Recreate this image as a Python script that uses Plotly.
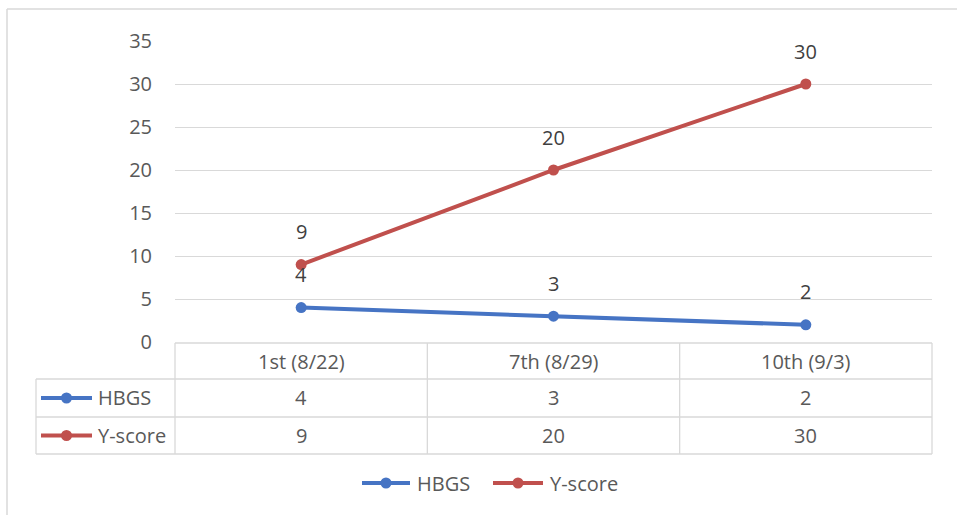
import plotly.graph_objects as go

# ---- data ----
categories = ["1st (8/22)", "7th (8/29)", "10th (9/3)"]
series_names = ["HBGS", "Y-score"]
hbgs = [4, 3, 2]
yscore = [9, 20, 30]
y_ticks = [0, 5, 10, 15, 20, 25, 30, 35]

colors = {"HBGS": "#4674C4", "Y-score": "#C0504D"}
series_values = {"HBGS": hbgs, "Y-score": yscore}

FONT = "Open Sans"
TEXT = "#595959"
GRID = "#D9D9D9"

# ---- canvas geometry (pixels) ----
W, H = 957, 515
L, R, T, B = 175, 932, 41, 342


def px(x):
    return (x - L) / (R - L)


def py(y):
    return (B - y) / (B - T)


fig = go.Figure()

for name in series_names:
    fig.add_trace(go.Scatter(
        x=list(range(len(categories))),
        y=series_values[name],
        mode="lines+markers",
        name=name,
        line=dict(color=colors[name], width=4),
        marker=dict(color=colors[name], size=11),
        cliponaxis=False,
        showlegend=False,
        hoverinfo="skip",
    ))

annotations = []
shapes = []

# data labels above each point
for name in series_names:
    for i, v in enumerate(series_values[name]):
        annotations.append(dict(
            x=i, y=v, xref="x", yref="y", text=str(v), showarrow=False,
            xanchor="center", yanchor="middle",
            yshift=33, font=dict(family=FONT, size=20, color="#404040"),
        ))

# ---- data table under the plot ----
row_lines = [343, 379, 417, 454]
left_px = 36


def hline(y, x0p, x1p):
    shapes.append(dict(type="line", xref="paper", yref="paper",
                       x0=px(x0p), x1=px(x1p), y0=py(y), y1=py(y),
                       line=dict(color=GRID, width=1.3)))


def vline(xp, y0, y1):
    shapes.append(dict(type="line", xref="paper", yref="paper",
                       x0=px(xp), x1=px(xp), y0=py(y0), y1=py(y1),
                       line=dict(color=GRID, width=1.3)))


hline(row_lines[0], L, R)
for y in row_lines[1:]:
    hline(y, left_px, R)
vline(left_px, row_lines[1], row_lines[3])
for k in range(len(categories) + 1):
    xp = L + k * (R - L) / len(categories)
    vline(xp, row_lines[0], row_lines[3])

# header cells (category names)
for i, c in enumerate(categories):
    annotations.append(dict(
        x=i, y=py((row_lines[0] + row_lines[1]) / 2), xref="x", yref="paper",
        xanchor="center", yanchor="middle",
        text=c, showarrow=False, font=dict(family=FONT, size=20, color=TEXT),
    ))


def legend_key(x0, x1, cy, color):
    shapes.append(dict(type="line", xref="paper", yref="paper",
                       x0=px(x0), x1=px(x1), y0=py(cy), y1=py(cy),
                       line=dict(color=color, width=4)))
    cx = (x0 + x1) / 2
    shapes.append(dict(type="circle", xref="paper", yref="paper",
                       xsizemode="pixel", ysizemode="pixel",
                       xanchor=px(cx), yanchor=py(cy),
                       x0=-5.5, x1=5.5, y0=-5.5, y1=5.5,
                       fillcolor=color, line=dict(color=color, width=0)))


# value rows
for r, name in enumerate(series_names):
    cy = (row_lines[r + 1] + row_lines[r + 2]) / 2
    legend_key(41, 92, cy, colors[name])
    annotations.append(dict(
        x=px(96), y=py(cy), xref="paper", yref="paper",
        xanchor="left", yanchor="middle",
        text=name, showarrow=False, font=dict(family=FONT, size=20, color=TEXT),
    ))
    for i, v in enumerate(series_values[name]):
        annotations.append(dict(
            x=i, y=py(cy), xref="x", yref="paper", text=str(v), showarrow=False,
            xanchor="center", yanchor="middle",
            font=dict(family=FONT, size=20, color=TEXT),
        ))

# ---- legend below the table ----
leg_y = 483
leg_items = [(362, 410, 415), (493, 543, 548)]
for name, (a, b, t) in zip(series_names, leg_items):
    legend_key(a, b, leg_y, colors[name])
    annotations.append(dict(
        x=px(t), y=py(leg_y), xref="paper", yref="paper",
        xanchor="left", yanchor="middle",
        text=name, showarrow=False, font=dict(family=FONT, size=20, color=TEXT),
    ))

# chart frame
shapes.append(dict(type="line", xref="paper", yref="paper",
                   x0=px(7), x1=px(7), y0=py(9), y1=py(H + 5),
                   line=dict(color="#D9D9D9", width=1.5)))
shapes.append(dict(type="line", xref="paper", yref="paper",
                   x0=px(7), x1=px(W + 5), y0=py(9), y1=py(9),
                   line=dict(color="#D9D9D9", width=1.5)))

fig.update_layout(
    width=W, height=H, autosize=False,
    margin=dict(l=L, r=W - R, t=T, b=H - B, pad=0),
    paper_bgcolor="white", plot_bgcolor="white",
    font=dict(family=FONT, size=20, color=TEXT),
    xaxis=dict(range=[-0.5, len(categories) - 0.5], showticklabels=False,
               showgrid=False, zeroline=False, showline=False, fixedrange=True),
    yaxis=dict(range=[0, 35], tickvals=y_ticks, showgrid=True, gridcolor=GRID,
               gridwidth=1.3, zeroline=False, showline=False,
               tickfont=dict(family=FONT, size=20, color=TEXT),
               ticklabelstandoff=22, fixedrange=True),
    annotations=annotations,
    shapes=shapes,
    showlegend=False,
)

fig.write_html("out.html")
